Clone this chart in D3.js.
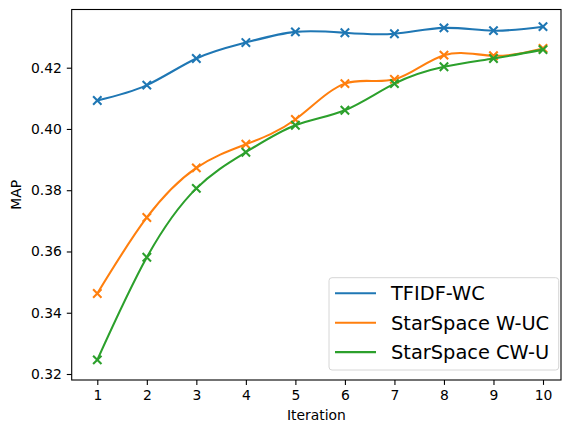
<!DOCTYPE html>
<html>
<head>
<meta charset="utf-8">
<script src="https://cdn.jsdelivr.net/npm/d3@7"></script>
<style>
  body { margin: 0; background: #fff; }
  svg { display: block; font-family: "DejaVu Sans", sans-serif; }
</style>
</head>
<body>
<svg id="chart" width="563" height="422"></svg>
<script>
// data
const iterations = [1, 2, 3, 4, 5, 6, 7, 8, 9, 10];
const tfidfWC = [0.4093, 0.4143, 0.4230, 0.4282, 0.4317, 0.4314, 0.4311, 0.4330, 0.4321, 0.4334];
const starWUC = [0.3463, 0.3711, 0.3873, 0.3950, 0.4031, 0.4148, 0.4162, 0.4241, 0.4239, 0.4263];
const starCWU = [0.3246, 0.3581, 0.3806, 0.3924, 0.4012, 0.4061, 0.4148, 0.4203, 0.4230, 0.4259];
const seriesNames = ['TFIDF-WC', 'StarSpace W-UC', 'StarSpace CW-U'];
const seriesColors = ['#1f77b4', '#ff7f0e', '#2ca02c'];
const yTicks = [0.32, 0.34, 0.36, 0.38, 0.40, 0.42];

const svg = d3.select('#chart');
const pLeft = 71.7, pRight = 561, pTop = 9.5, pBottom = 380;

// x: 1 -> 97.3, 10 -> 543
const x = d3.scaleLinear().domain([1, 10]).range([97.3, 543]);
const y = d3.scaleLinear().domain([0.32, 0.42]).range([374, 67.7]);

const tickLen = 4.9;

// x axis
const xAxis = svg.append('g').attr('transform', `translate(0,${pBottom})`)
  .call(d3.axisBottom(x).tickValues(iterations).tickFormat(d3.format('d')).tickSize(tickLen).tickPadding(4.9));
// y axis
const yAxis = svg.append('g').attr('transform', `translate(${pLeft},0)`)
  .call(d3.axisLeft(y).tickValues(yTicks).tickFormat(d3.format('.2f')).tickSize(tickLen).tickPadding(4.9));

[xAxis, yAxis].forEach(a => {
  a.select('.domain').remove();
  a.selectAll('.tick line').attr('stroke', '#000').attr('stroke-width', 1.1);
  a.selectAll('.tick text').attr('font-size', '13.9px').attr('fill', '#000')
    .attr('font-family', '"DejaVu Sans", sans-serif');
});

// clip for curves
svg.append('defs').append('clipPath').attr('id', 'plotclip')
  .append('rect').attr('x', pLeft).attr('y', pTop).attr('width', pRight - pLeft).attr('height', pBottom - pTop);

const line = d3.line()
  .x((d, i) => x(iterations[i]))
  .y(d => y(d))
  .curve(d3.curveNatural);

const allSeries = [tfidfWC, starWUC, starCWU];
const plot = svg.append('g').attr('clip-path', 'url(#plotclip)');
allSeries.forEach((s, k) => {
  plot.append('path').attr('d', line(s)).attr('fill', 'none')
    .attr('stroke', seriesColors[k]).attr('stroke-width', 2.08);
  const m = 4.2;
  plot.append('g').selectAll('path').data(s).join('path')
    .attr('d', (d, i) => {
      const cx = x(iterations[i]), cy = y(d);
      return `M${cx - m},${cy - m}L${cx + m},${cy + m}M${cx - m},${cy + m}L${cx + m},${cy - m}`;
    })
    .attr('stroke', seriesColors[k]).attr('stroke-width', 2.08).attr('fill', 'none');
});

// frame
svg.append('rect').attr('x', pLeft).attr('y', pTop).attr('width', pRight - pLeft).attr('height', pBottom - pTop)
  .attr('fill', 'none').attr('stroke', '#000').attr('stroke-width', 1.1);

// axis labels
svg.append('text').attr('x', (pLeft + pRight) / 2).attr('y', 420).attr('text-anchor', 'middle')
  .attr('font-size', '13.9px').text('Iteration');
svg.append('text').attr('transform', `translate(21,${(pTop + pBottom) / 2}) rotate(-90)`)
  .attr('text-anchor', 'middle').attr('font-size', '13.9px').text('MAP');

// legend
const lg = svg.append('g');
lg.append('rect').attr('x', 329).attr('y', 277.7).attr('width', 229.7).attr('height', 92.3)
  .attr('rx', 3).attr('fill', '#fff').attr('fill-opacity', 0.8).attr('stroke', '#d6d6d6').attr('stroke-width', 1);
seriesNames.forEach((name, k) => {
  const ly = 293.3 + k * 29.4;
  lg.append('line').attr('x1', 335).attr('x2', 376).attr('y1', ly).attr('y2', ly)
    .attr('stroke', seriesColors[k]).attr('stroke-width', 2.08);
  lg.append('text').attr('x', 391).attr('y', ly + 7).attr('font-size', '19.4px').attr('fill', '#000').text(name);
});
</script>
</body>
</html>
